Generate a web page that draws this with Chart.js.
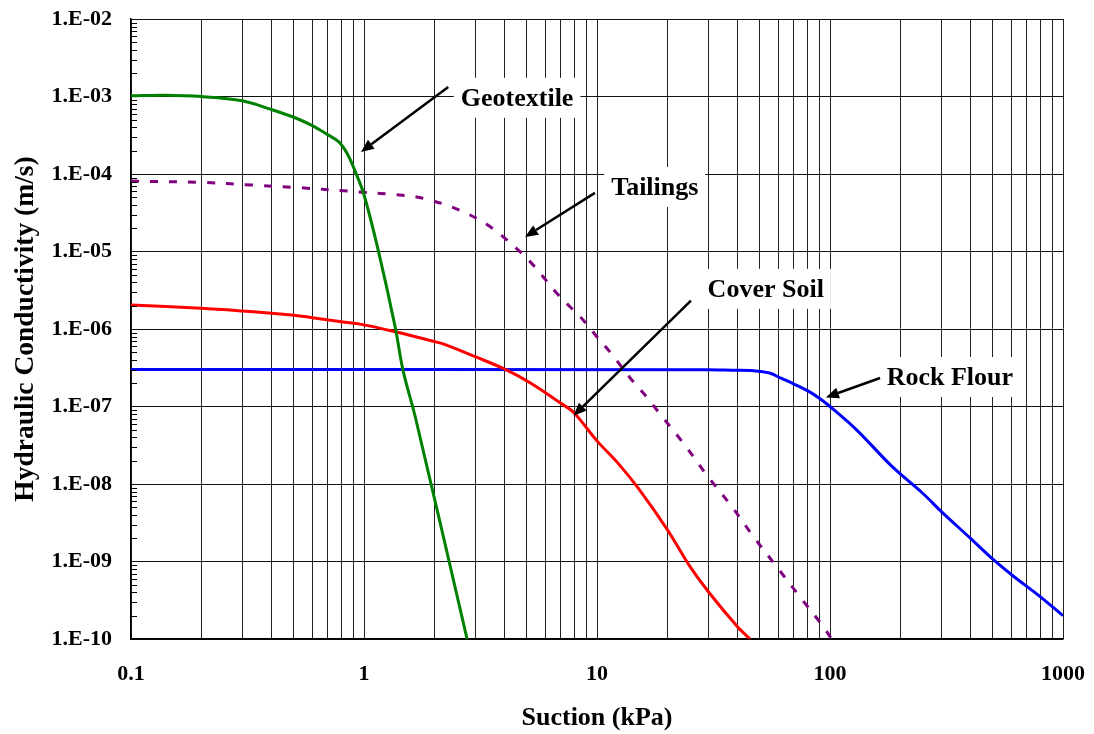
<!DOCTYPE html>
<html>
<head>
<meta charset="utf-8">
<title>Hydraulic Conductivity</title>
<script src="https://cdn.jsdelivr.net/npm/chart.js@4.4.1/dist/chart.umd.min.js"></script>
<style>
  html, body { margin: 0; padding: 0; background: #fff; }
  #wrap { width: 1094px; height: 734px; position: relative; }
</style>
</head>
<body>
<div id="wrap"><canvas id="kChart"></canvas></div>
<script>
// suction (kPa) vs hydraulic conductivity (m/s)
const geotextileSuction = [0.1, 0.14, 0.2, 0.3, 0.4, 0.5, 0.6, 0.7, 0.78, 0.85, 0.92, 1.0, 1.15, 1.36, 1.47, 1.67, 2.77];
const geotextileK = [1.02e-3, 1.04e-3, 1.0e-3, 8.8e-4, 6.8e-4, 5.4e-4, 4.2e-4, 3.2e-4, 2.6e-4, 1.8e-4, 1.05e-4, 5.4e-5, 1.05e-5, 1.07e-6, 2.95e-7, 6.8e-8, 1.0e-10];

const tailingsSuction = [0.1, 0.2, 0.33, 0.53, 0.87, 1.0, 1.38, 1.65, 1.92, 2.3, 2.76, 3.36, 3.9, 4.52, 5.16, 5.88, 6.72, 7.66, 8.74, 10, 11.4, 14.1, 16.3, 18.3, 23.5, 29.6, 37.9, 46.9, 59, 74.3, 93.5, 101.6];
const tailingsK = [8.1e-5, 7.8e-5, 7.2e-5, 6.65e-5, 6.0e-5, 5.8e-5, 5.4e-5, 5.1e-5, 4.6e-5, 3.9e-5, 3.1e-5, 2.25e-5, 1.6e-5, 1.09e-5, 7.4e-6, 4.7e-6, 2.9e-6, 1.94e-6, 1.3e-6, 7.9e-7, 5.0e-7, 2.2e-7, 1.34e-7, 8.6e-8, 3.35e-8, 1.3e-8, 5.1e-9, 2.1e-9, 8.6e-10, 3.5e-10, 1.45e-10, 1.0e-10];

const coverSuction = [0.1, 0.2, 0.3, 0.4, 0.5, 0.6, 0.8, 1.0, 1.36, 2.0, 2.23, 3.0, 4.0, 5.2, 7.0, 8.0, 10, 12.3, 15, 20, 25, 30, 40, 45.4];
const coverK = [2.04e-6, 1.85e-6, 1.71e-6, 1.6e-6, 1.5e-6, 1.4e-6, 1.24e-6, 1.13e-6, 9.2e-7, 6.9e-7, 6.3e-7, 4.4e-7, 3.05e-7, 2.0e-7, 1.1e-7, 8.2e-8, 3.6e-8, 1.86e-8, 8.9e-9, 2.6e-9, 8.7e-10, 4.1e-10, 1.45e-10, 1.0e-10];

const rockSuction = [0.1, 30, 38, 47, 55, 62, 70, 80, 90, 100, 130, 184, 250, 303, 400, 500, 611, 800, 1000];
const rockK = [3.0e-7, 2.98e-7, 2.94e-7, 2.9e-7, 2.7e-7, 2.3e-7, 1.95e-7, 1.6e-7, 1.28e-7, 1.0e-7, 5.0e-8, 1.7e-8, 7.6e-9, 4.3e-9, 2.0e-9, 1.07e-9, 6.5e-10, 3.5e-10, 2.0e-10];

// axis ranges
const suctionMin = 0.1, suctionMax = 1000;
const kMin = 1e-10, kMax = 1e-2;

// labels with arrows: [suction, K] for text centre, arrow tail, arrow head
const noteText = ['Geotextile', 'Tailings', 'Cover Soil', 'Rock Flour'];
const noteAt = [[4.54, 9.6e-4], [17.7, 6.8e-5], [53, 3.3e-6], [327, 2.4e-7]];
const arrowFrom = [[2.3, 1.33e-3], [9.8, 5.7e-5], [25.3, 2.33e-6], [164, 2.33e-7]];
const arrowTo = [[0.97, 1.92e-4], [4.91, 1.54e-5], [7.93, 7.6e-8], [96, 1.31e-7]];

const serif = "'Liberation Serif', 'Times New Roman', serif";

function pairs(xs, ys) {
  return xs.map((x, i) => ({ x: x, y: ys[i] }));
}

function isDecade(v) {
  const e = Math.log10(v);
  return Math.abs(e - Math.round(e)) < 1e-9;
}

// 1..9 x 10^n between min and max
function logTicks(min, max) {
  const out = [];
  for (let e = Math.round(Math.log10(min)); e <= Math.round(Math.log10(max)); e++) {
    for (let m = 1; m <= 9; m++) {
      const v = m * Math.pow(10, e);
      if (v > max * 1.000001) break;
      out.push(v);
    }
  }
  return out;
}

function sciLabel(v) {
  const e = Math.round(Math.log10(v));
  const s = String(Math.abs(e)).padStart(2, '0');
  return '1.E' + (e < 0 ? '-' : '+') + s;
}

// short inward ticks on the left axis for the minor values
const minorTicks = {
  id: 'minorTicks',
  afterDatasetsDraw(chart) {
    const ys = chart.scales.y;
    const left = chart.chartArea.left;
    const ctx = chart.ctx;
    ctx.save();
    ctx.strokeStyle = '#000';
    ctx.lineWidth = 1;
    ys.ticks.forEach(t => {
      if (isDecade(t.value)) return;
      const py = Math.round(ys.getPixelForValue(t.value)) + 0.5;
      ctx.beginPath();
      ctx.moveTo(left, py);
      ctx.lineTo(left + 6, py);
      ctx.stroke();
    });
    ctx.restore();
  }
};

// boxed labels with arrows pointing at the curves
const curveNotes = {
  id: 'curveNotes',
  afterDatasetsDraw(chart) {
    const xs = chart.scales.x, ys = chart.scales.y;
    const ctx = chart.ctx;
    ctx.save();
    ctx.font = "bold 26px " + serif;
    ctx.textAlign = 'center';
    ctx.textBaseline = 'middle';
    noteText.forEach((txt, i) => {
      const cx = xs.getPixelForValue(noteAt[i][0]);
      const cy = ys.getPixelForValue(noteAt[i][1]);
      const w = ctx.measureText(txt).width + 14;
      const h = 40;
      ctx.fillStyle = '#fff';
      ctx.fillRect(cx - w / 2, cy - h / 2, w, h);
      ctx.fillStyle = '#000';
      ctx.fillText(txt, cx, cy + 1);

      const x1 = xs.getPixelForValue(arrowFrom[i][0]);
      const y1 = ys.getPixelForValue(arrowFrom[i][1]);
      const x2 = xs.getPixelForValue(arrowTo[i][0]);
      const y2 = ys.getPixelForValue(arrowTo[i][1]);
      const ang = Math.atan2(y2 - y1, x2 - x1);
      const headLen = 13, headW = 5.5;
      const bx = x2 - headLen * Math.cos(ang);
      const by = y2 - headLen * Math.sin(ang);
      ctx.strokeStyle = '#000';
      ctx.lineWidth = 2.5;
      ctx.beginPath();
      ctx.moveTo(x1, y1);
      ctx.lineTo(bx, by);
      ctx.stroke();
      ctx.beginPath();
      ctx.moveTo(x2, y2);
      ctx.lineTo(bx + headW * Math.sin(ang), by - headW * Math.cos(ang));
      ctx.lineTo(bx - headW * Math.sin(ang), by + headW * Math.cos(ang));
      ctx.closePath();
      ctx.fill();
    });
    ctx.restore();
  }
};

const lineStyle = {
  showLine: true,
  pointRadius: 0,
  borderWidth: 3,
  fill: false,
  tension: 0.35
};

const datasets = [
  Object.assign({ label: 'Geotextile', data: pairs(geotextileSuction, geotextileK), borderColor: '#008000' }, lineStyle),
  Object.assign({ label: 'Tailings', data: pairs(tailingsSuction, tailingsK), borderColor: '#800080', borderDash: [8, 11] }, lineStyle),
  Object.assign({ label: 'Cover Soil', data: pairs(coverSuction, coverK), borderColor: '#ff0000' }, lineStyle),
  Object.assign({ label: 'Rock Flour', data: pairs(rockSuction, rockK), borderColor: '#0000ff' }, lineStyle)
];

const ctx = document.getElementById('kChart');
new Chart(ctx, {
  type: 'scatter',
  data: { datasets: datasets },
  options: {
    responsive: true,
    maintainAspectRatio: false,
    animation: false,
    layout: { padding: { top: 19, right: 31, left: 0, bottom: 0 } },
    plugins: {
      legend: { display: false },
      tooltip: { enabled: false }
    },
    scales: {
      x: {
        type: 'logarithmic',
        min: suctionMin,
        max: suctionMax,
        afterBuildTicks: s => { s.ticks = logTicks(suctionMin, suctionMax).map(v => ({ value: v })); },
        afterFit: s => { s.height = 95; s.paddingLeft = 0; s.paddingRight = 0; },
        border: { display: true, color: '#000', width: 1.5 },
        grid: { color: '#222', lineWidth: 1, drawTicks: false },
        ticks: {
          autoSkip: false,
          maxRotation: 0,
          padding: 22,
          color: '#000',
          font: { family: serif, size: 22, weight: 'bold' },
          callback: v => isDecade(v) ? String(Number(v.toPrecision(6))) : ''
        },
        title: {
          display: true,
          text: 'Suction (kPa)',
          color: '#000',
          padding: { top: 0, bottom: 0 },
          font: { family: serif, size: 26, weight: 'bold' }
        }
      },
      y: {
        type: 'logarithmic',
        min: kMin,
        max: kMax,
        afterBuildTicks: s => { s.ticks = logTicks(kMin, kMax).map(v => ({ value: v })); },
        afterFit: s => { s.width = 131; s.paddingTop = 0; s.paddingBottom = 0; },
        border: { display: true, color: '#000', width: 1.5 },
        grid: {
          drawTicks: false,
          lineWidth: 1,
          color: c => (c.tick && isDecade(c.tick.value)) ? '#111' : 'rgba(0,0,0,0)'
        },
        ticks: {
          autoSkip: false,
          padding: 19,
          color: '#000',
          font: { family: serif, size: 22, weight: 'bold' },
          callback: v => isDecade(v) ? sciLabel(v) : ''
        },
        title: {
          display: true,
          text: 'Hydraulic Conductivity (m/s)',
          color: '#000',
          padding: { top: 9, bottom: 0 },
          font: { family: serif, size: 27.5, weight: 'bold' }
        }
      }
    }
  },
  plugins: [minorTicks, curveNotes]
});
</script>
</body>
</html>
